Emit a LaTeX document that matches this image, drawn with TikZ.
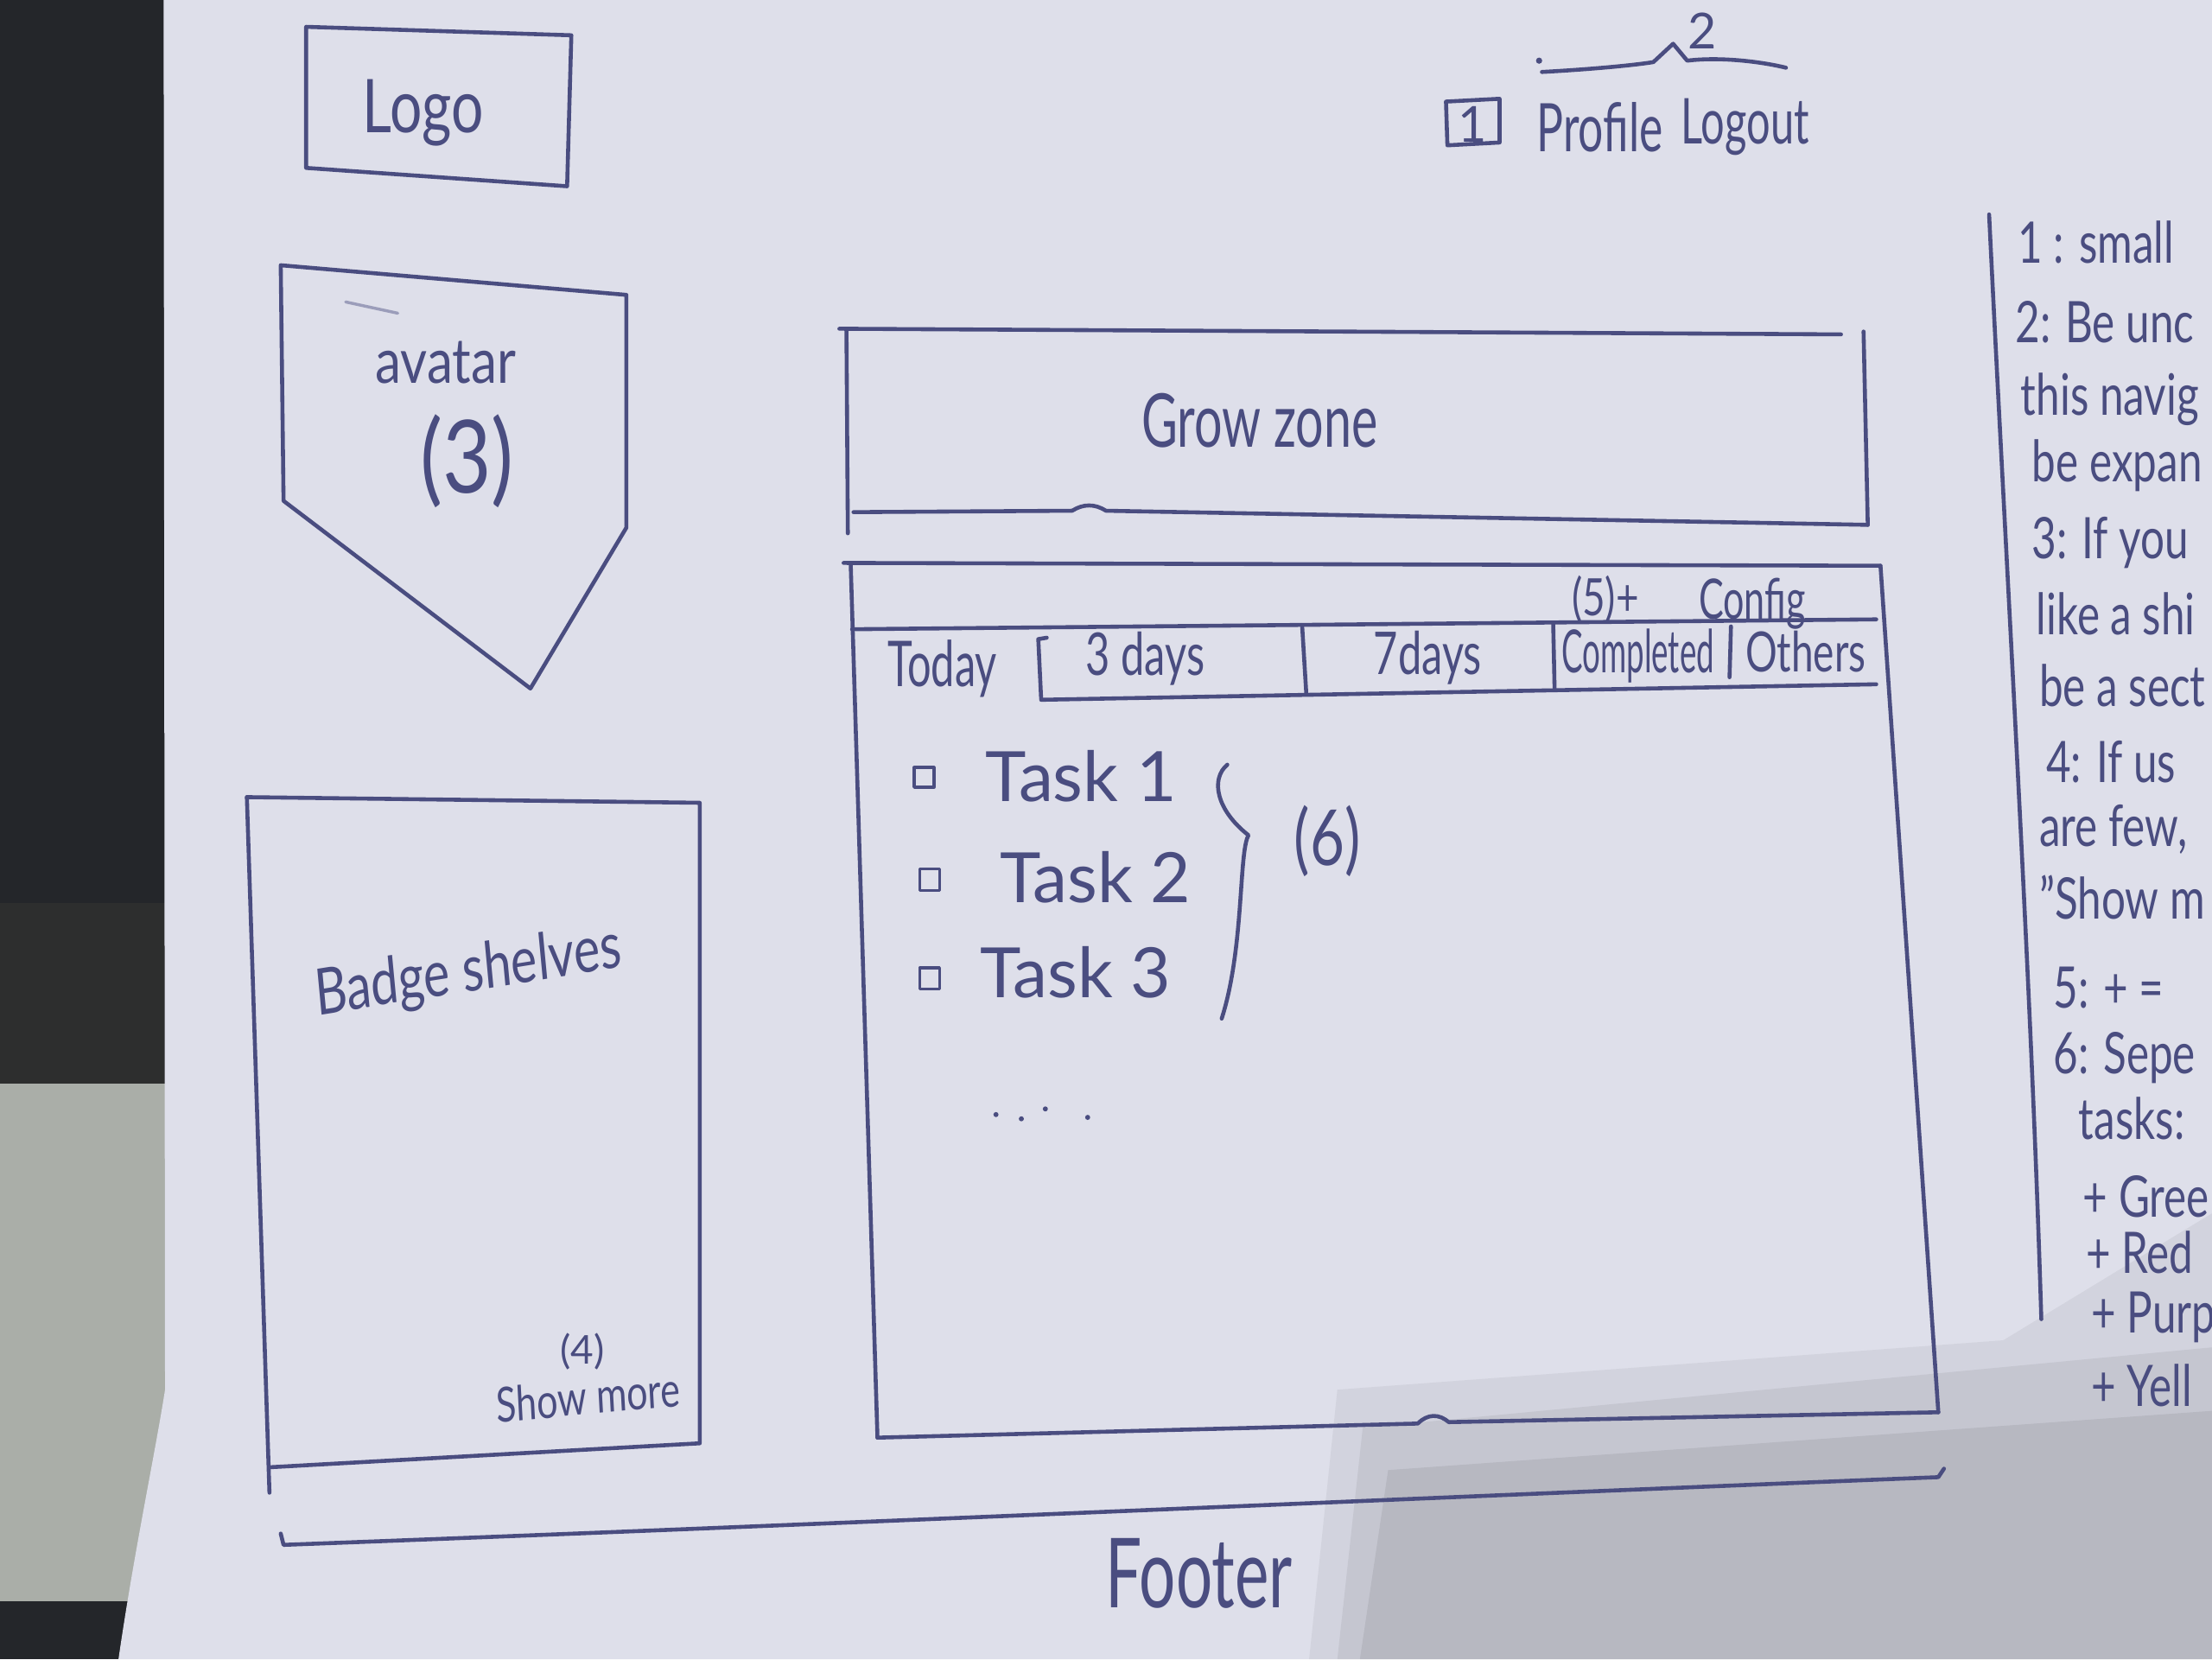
\documentclass[tikz,border=0pt]{standalone}
\usepackage{fontspec}
\setmainfont{Lato}
\begin{document}
\begin{tikzpicture}[x=0.1mm,y=-0.1mm,
  pen/.style={draw=ink, line width=0.8pt, line cap=round, line join=round},
  thinpen/.style={draw=ink, line width=0.6pt, line cap=round, line join=round},
  hand/.style={text=ink, inner sep=0pt},
  fs/.style={font=\fontsize{#1}{#1}\selectfont},
  note/.style={hand, anchor=west, fs=10.5, xscale=0.82, yscale=1.1}]
\definecolor{paper}{RGB}{222,223,234}
\definecolor{ink}{RGB}{74,77,128}
\definecolor{desk}{RGB}{36,38,42}
\definecolor{laptop}{RGB}{170,174,168}
\useasboundingbox (0,0) rectangle (1568,1176);

% desk and laptop behind the sheet
\fill[desk] (0,0) rectangle (1568,1176);
\fill[laptop] (0,768) rectangle (140,1135);
\fill[black!70!laptop, opacity=0.6] (0,640) rectangle (140,768);

% the sheet of paper
\fill[paper] (116,0) -- (1568,0) -- (1568,1176) -- (84,1176)
  .. controls (95,1100) and (110,1030) .. (117,985) -- cycle;

% soft shadow over the lower right of the sheet
\begin{scope}
  \clip (116,0) -- (1568,0) -- (1568,1176) -- (84,1176)
    .. controls (95,1100) and (110,1030) .. (117,985) -- cycle;
  \fill[black, opacity=0.05] (928,1176) -- (948,985) -- (1420,950) -- (1568,860) -- (1568,1176) -- cycle;
  \fill[black, opacity=0.06] (948,1176) -- (966,1012) -- (1568,955) -- (1568,1176) -- cycle;
  \fill[black, opacity=0.07] (964,1176) -- (984,1042) -- (1568,1000) -- (1568,1176) -- cycle;
\end{scope}

% logo box
\draw[pen] (217,19) -- (405,25) -- (402,132) -- (217,119) -- cycle;
\node[hand, fs=11.5, yscale=1.3] (logo) at (300,80) {Logo};

% top navigation: wavy marker 2, boxed 1, Profile, Logout
\fill[ink] (1091,43) circle (2.2);
\draw[pen] (1093,51) .. controls (1130,49) and (1160,46) .. (1172,44) -- (1186,31) -- (1196,43)
  .. controls (1220,40) and (1250,44) .. (1266,48);
\node[hand, fs=10] (navtwo) at (1207,22) {2};
\draw[pen] (1025,72) -- (1063,70) -- (1063,101) -- (1026,103) -- cycle;
\node[hand, fs=10] (navone) at (1044,88) {1};
\node[hand, fs=9, yscale=1.5] (profile) at (1134,90) {Profile};
\node[hand, fs=8.5, yscale=1.5] (logout) at (1237,90) {Logout};

% avatar shape
\draw[pen] (199,188) -- (444,209) -- (444,374) -- (376,488) -- (201,355) -- cycle;
\draw[thinpen, opacity=0.45] (245,214) -- (282,222);
\node[hand, fs=10.5, yscale=1.2] (avatar) at (316,257) {avatar};
\node[hand, fs=17, yscale=1.2] (avnum) at (331,327) {(3)};

% badge shelves box
\draw[pen] (175,565) -- (496,569) -- (496,1023) -- (191,1040);
\draw[pen] (175,565) -- (191,1058);
\node[hand, fs=10, yscale=1.3, rotate=7] (badges) at (332,690) {Badge shelves};
\node[hand, fs=8] (badgenum) at (413,958) {(4)};
\node[hand, fs=7.5, yscale=1.3, rotate=4] (showmore) at (417,990) {Show more};

% grow zone box
\draw[pen] (595,233) -- (1305,237);
\draw[pen] (600,233) -- (601,378);
\draw[pen] (605,363) -- (760,362) .. controls (768,357) and (776,357) .. (784,362) -- (1324,372);
\draw[pen] (1321,235) -- (1324,372);
\node[hand, fs=10, yscale=1.5] (grow) at (893,298) {Grow zone};

% task panel
\draw[pen] (598,399) -- (1333,401);
\draw[pen] (603,399) -- (622,1019);
\draw[pen] (622,1019) -- (1005,1009) .. controls (1012,1002) and (1020,1002) .. (1027,1008) -- (1374,1001);
\draw[pen] (1333,401) -- (1374,1001);
\draw[pen] (604,446) -- (1330,439);
\draw[pen] (738,496) -- (1330,485);
\draw[pen] (742,452) -- (736,453) -- (738,495);
\draw[pen] (923,443) -- (926,492);
\draw[pen] (1101,442) -- (1102,489);
\draw[pen] (1227,444) -- (1226,480);
\node[hand, fs=8.5, yscale=1.5] (ttoday) at (668,474) {Today};
\node[hand, fs=8.5, yscale=1.4] (tthree) at (812,467) {3 days};
\node[hand, fs=8.5, yscale=1.4] (tseven) at (1012,466) {7days};
\node[hand, fs=8, xscale=0.8, yscale=1.5] (tdone) at (1161,465) {Completed};
\node[hand, fs=8, yscale=1.4] (tother) at (1280,462) {Others};
\node[hand, fs=8, yscale=1.3] (addbtn) at (1138,425) {(5)+};
\node[hand, fs=7.5, yscale=1.5] (config) at (1242,428) {Config};

% task list
\draw[thinpen] (648,544) rectangle (662,558);
\draw[thinpen] (652,616) rectangle (666,631);
\draw[thinpen] (652,686) rectangle (666,701);
\node[hand, fs=14, anchor=west] (taskone) at (698,550) {Task 1};
\node[hand, fs=14, anchor=west] (tasktwo) at (708,622) {Task 2};
\node[hand, fs=14, anchor=west] (taskthree) at (694,689) {Task 3};
\draw[pen] (870,542) .. controls (858,552) and (862,574) .. (885,592)
  .. controls (878,604) and (882,672) .. (866,722);
\node[hand, fs=12, yscale=1.3] (group) at (941,596) {(6)};
\fill[ink] (706,790) circle (1.8) (724,793) circle (1.8) (741,786) circle (1.8) (771,792) circle (1.8);

% footer rule and label
\draw[pen] (199,1087) -- (201,1095) .. controls (600,1080) and (1000,1062) .. (1374,1047) -- (1378,1041);
\node[hand, fs=13, yscale=1.5] (footer) at (850,1115) {Footer};

% side notes column
\draw[pen] (1410,152) .. controls (1422,400) and (1440,700) .. (1447,935);
\node[note] (n1) at (1430,172) {1 : small};
\node[note] (n2) at (1428,228) {2: Be unc};
\node[note] (n3) at (1432,283) {this navig};
\node[note] (n4) at (1440,330) {be expan};
\node[note] (n5) at (1440,385) {3: If you};
\node[note] (n6) at (1443,435) {like a shi};
\node[note] (n7) at (1445,486) {be a sect};
\node[note] (n8) at (1450,540) {4: If us};
\node[note] (n9) at (1445,588) {are few,};
\node[note] (n10) at (1445,636) {"Show m};
\node[note] (n11) at (1455,700) {5: + =};
\node[note] (n12) at (1455,750) {6: Sepe};
\node[note] (n13) at (1473,793) {tasks:};
\node[note] (n14) at (1476,848) {+ Gree};
\node[note] (n15) at (1478,888) {+ Red};
\node[note] (n16) at (1482,934) {+ Purp};
\node[note] (n17) at (1482,982) {+ Yell};
\end{tikzpicture}
\end{document}
